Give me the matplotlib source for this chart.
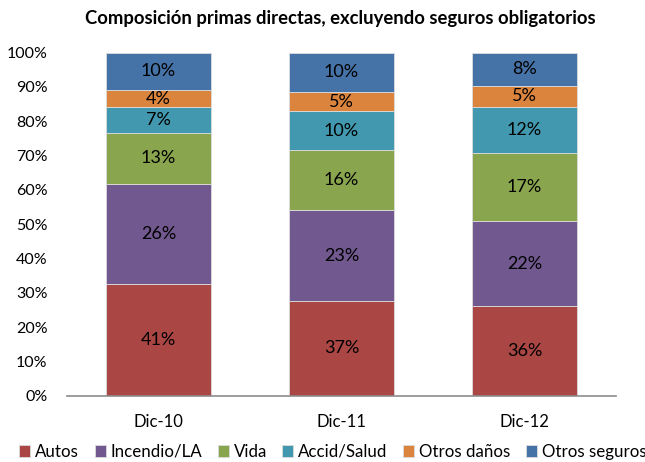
import matplotlib.pyplot as plt
import numpy as np

plt.rcParams['font.family'] = ['Lato', 'DejaVu Sans']

categories = ['Dic-10', 'Dic-11', 'Dic-12']
series = ['Autos', 'Incendio/LA', 'Vida', 'Accid/Salud', 'Otros daños', 'Otros seguros']
colors = ['#AA4643', '#71588F', '#89A54E', '#4198AF', '#DB843D', '#4572A7']

# segment shares as drawn
autos = [32.6, 27.6, 26.1]
incendio = [29.2, 26.5, 24.7]
vida = [14.7, 17.5, 20.0]
accid = [7.6, 11.3, 13.4]
otros_danos = [5.0, 5.7, 6.1]
otros_seguros = [10.9, 11.4, 9.7]

# labels printed on the segments
lbl_autos = ['41%', '37%', '36%']
lbl_incendio = ['26%', '23%', '22%']
lbl_vida = ['13%', '16%', '17%']
lbl_accid = ['7%', '10%', '12%']
lbl_otros_danos = ['4%', '5%', '5%']
lbl_otros_seguros = ['10%', '10%', '8%']

values = [autos, incendio, vida, accid, otros_danos, otros_seguros]
labels = [lbl_autos, lbl_incendio, lbl_vida, lbl_accid, lbl_otros_danos, lbl_otros_seguros]

fig = plt.figure(figsize=(6.45, 4.62), dpi=100)
ax = fig.add_axes([0.1039, 0.1435, 0.8511, 0.7425])

x = np.arange(len(categories))
bottom = np.zeros(len(categories))
for name, vals, lbls, col in zip(series, values, labels, colors):
    vals = np.array(vals)
    ax.bar(x, vals, 0.57, bottom=bottom, color=col, edgecolor='#dcdcdc',
           linewidth=0.6, label=name)
    for xi, b, v, t in zip(x, bottom, vals, lbls):
        ax.text(xi, b + v / 2, t, ha='center', va='center', fontsize=13, color='black')
    bottom += vals

ax.set_xlim(-0.5, 2.5)
ax.set_ylim(0, 100)
ax.set_yticks(np.arange(0, 101, 10))
ax.set_yticklabels([f'{v}%' for v in range(0, 101, 10)], fontsize=11.5)
ax.set_xticks(x)
ax.set_xticklabels(categories, fontsize=12)
ax.tick_params(axis='y', length=0, pad=14)
ax.tick_params(axis='x', length=0, pad=13)
for s in ['top', 'right', 'left']:
    ax.spines[s].set_visible(False)
ax.spines['bottom'].set_color('#8c8c8c')
ax.spines['bottom'].set_linewidth(1.2)

fig.text(0.527, 0.961, 'Composición primas directas, excluyendo seguros obligatorios',
         ha='center', va='center', fontsize=13.3, fontweight='bold')

fig.legend(loc='center', bbox_to_anchor=(0.516, 0.022), ncol=6, frameon=False,
           fontsize=12.2, handlelength=0.65, handleheight=0.65, handletextpad=0.3,
           columnspacing=0.9, borderaxespad=0)

plt.savefig('out.png', dpi=100)
